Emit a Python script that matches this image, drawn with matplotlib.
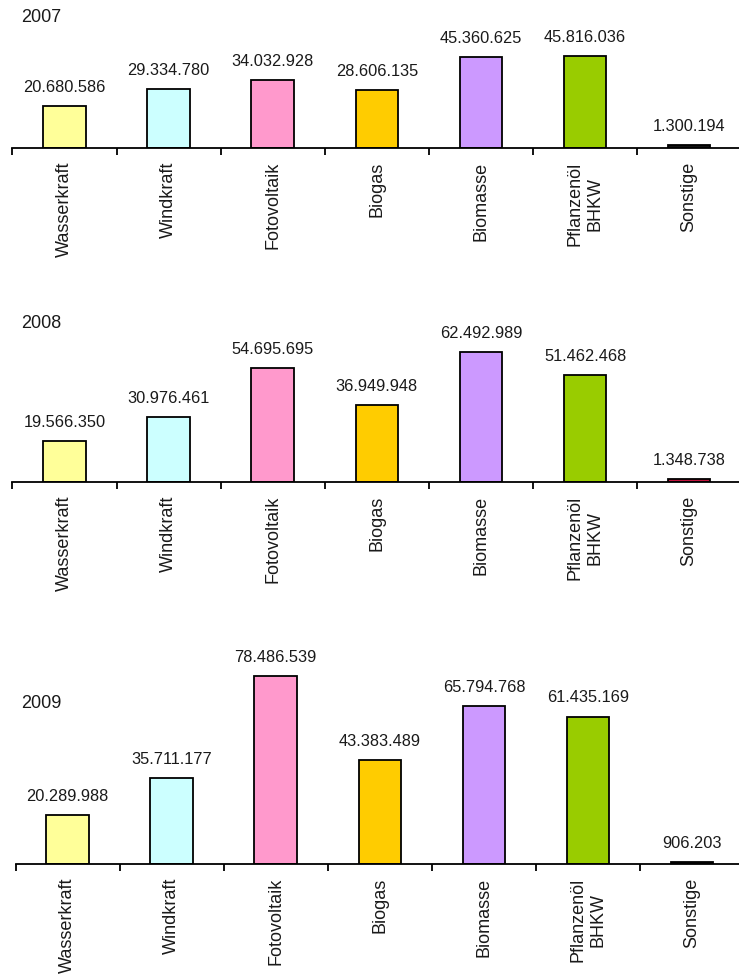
import matplotlib.pyplot as plt
from matplotlib.ticker import FixedLocator

# ====== Daten ======
kategorien = ["Wasserkraft", "Windkraft", "Fotovoltaik", "Biogas", "Biomasse",
              "Pflanzenöl\nBHKW", "Sonstige"]
jahre = ["2007", "2008", "2009"]

werte_2007 = [20680586, 29334780, 34032928, 28606135, 45360625, 45816036, 1300194]
werte_2008 = [19566350, 30976461, 54695695, 36949948, 62492989, 51462468, 1348738]
werte_2009 = [20289988, 35711177, 78486539, 43383489, 65794768, 61435169, 906203]

# ====== Stil ======
farben = ["#FFFF99", "#CCFFFF", "#FF99CC", "#FFCC00", "#CC99FF", "#99CC00"]
farbe_sonstige = {"2007": "#111111", "2008": "#C0143C", "2009": "#111111"}

W, H = 739, 976
# (Achse links px, Grundlinie px, Achsenhöhe px, px pro Mio., Titel-y px)
layout = {
    "2007": (12.5, 147.7, 108, 2.00, 17),
    "2008": (12.5, 482.0, 142, 2.085, 324),
    "2009": (15.5, 864.0, 204, 2.40, 704),
}
daten = {"2007": werte_2007, "2008": werte_2008, "2009": werte_2009}

fig = plt.figure(figsize=(W / 100, H / 100), dpi=100)
plt.rcParams["font.family"] = ["Liberation Sans", "DejaVu Sans"]
textfarbe = "#1a1a1a"

for jahr in jahre:
    links, basis, hoehe, skala, titel_y = layout[jahr]
    werte = daten[jahr]
    breite_px = 104.1 * len(kategorien)
    ax = fig.add_axes([links / W, 1 - basis / H, breite_px / W, hoehe / H])

    x = list(range(len(kategorien)))
    cols = farben + [farbe_sonstige[jahr]]
    ax.bar(x, werte, width=0.41, color=cols, edgecolor="black", linewidth=1.3,
           zorder=3)

    for xi, v in zip(x, werte):
        ax.annotate(f"{v:,}".replace(",", "."), (xi, v), xytext=(0, 8),
                    textcoords="offset points", ha="center", va="bottom",
                    fontsize=11.8, color=textfarbe)

    ax.set_xlim(-0.5, len(kategorien) - 0.5)
    ax.set_ylim(0, hoehe / skala * 1e6)

    for s in ["top", "right", "left"]:
        ax.spines[s].set_visible(False)
    ax.spines["bottom"].set_linewidth(1.3)
    ax.spines["bottom"].set_zorder(4)
    ax.set_yticks([])

    ax.set_xticks(x)
    ax.set_xticklabels(kategorien, rotation=90, fontsize=13, color=textfarbe,
                       multialignment="center")
    ax.tick_params(axis="x", which="major", length=0, pad=10)
    ax.xaxis.set_minor_locator(FixedLocator([i - 0.5 for i in range(len(kategorien) + 1)]))
    ax.tick_params(axis="x", which="minor", length=5, width=1.3, direction="out")
    ax.patch.set_alpha(0)

    fig.text(21 / W, 1 - titel_y / H, jahr, fontsize=13, color=textfarbe,
             ha="left", va="center")

fig.savefig("out.png", dpi=100)
